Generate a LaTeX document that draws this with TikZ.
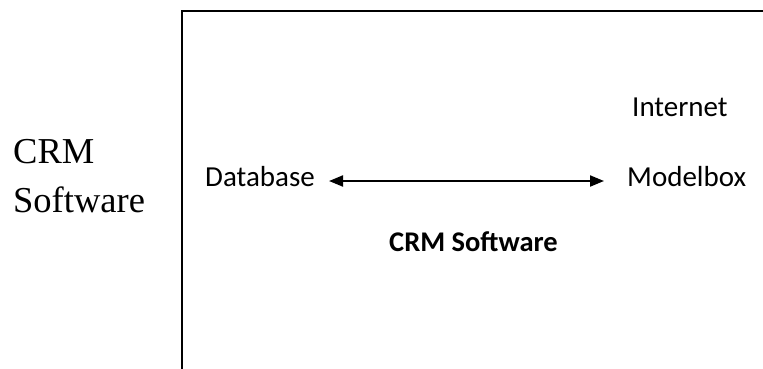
\documentclass[tikz,border=0pt]{standalone}
\usepackage{fontspec}
\setmainfont{Liberation Serif}
\newfontfamily\calibrifont{Carlito}
\usetikzlibrary{arrows.meta,calc}
\begin{document}
\begin{tikzpicture}[x=1pt,y=-1pt,
  lbl/.style={inner sep=0pt,anchor=base west,font=\calibrifont\fontsize{29}{35}\selectfont},
  side/.style={inner sep=0pt,anchor=base west,align=left,font=\fontsize{36.5}{49}\selectfont},
  link/.style={line width=2pt,{Triangle[length=14pt,width=11pt]}-{Triangle[length=14pt,width=11pt]}}]
  \useasboundingbox[fill=white] (0,0) rectangle (763,368);
  % frame open to the right and bottom
  \draw[line width=2pt] (775,11) -- (182,11) -- (182,380);
  % labels
  \node[side] (side) at (13,212) {CRM\\Software};
  \node[lbl] (inet) at (632,116) {Internet};
  \node[lbl] (db) at (205,186.5) {Database};
  \node[lbl] (mb) at (627,186.5) {Modelbox};
  \node[lbl,font=\calibrifont\bfseries\fontsize{28.5}{34}\selectfont] (crm) at (389,251) {CRM Software};
  % two-way link
  \draw[link] ($(db.base east)+(14,-5.5)$) -- ($(mb.base west)+(-23,-5.5)$);
\end{tikzpicture}
\end{document}
